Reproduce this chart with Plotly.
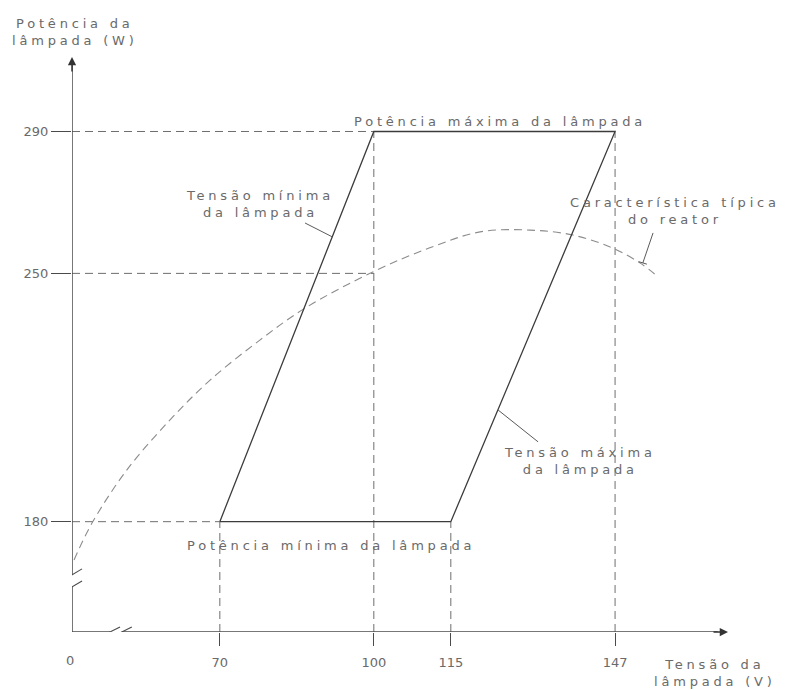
import plotly.graph_objects as go

# ---------------- data ----------------
# operating envelope of the lamp (voltage V, power W)
envelope_v = [70, 100, 147, 115, 70]
envelope_w = [180, 290, 290, 180, 180]

# typical reactor characteristic
reator_v = [41.6, 45.1, 51.9, 60.3, 68.1, 77.8, 86.6, 99.8, 110.9, 120.7, 130.4, 138.8, 146.4, 151.9, 155.4]
reator_w = [169.2, 179.6, 194.6, 208.7, 219.9, 231.2, 240.2, 250.4, 257.2, 261.7, 262.2, 260.8, 257.2, 252.9, 249.0]

x_tick_vals = [70, 100, 115, 147]
x_tick_text = ["70", "100", "115", "147"]
y_tick_vals = [180, 250, 290]
y_tick_text = ["180", "250", "290"]

# guide lines: horizontal (power level, ends at voltage) and vertical (voltage, starts at power)
guide_h_w = [290, 250, 180]
guide_h_v = [100, 100, 70]
guide_v_v = [70, 100, 115, 147]
guide_v_w = [180, 290, 180, 290]

# ---------------- layout constants ----------------
X0, X1 = 41.2, 169.0     # broken axis: origin shown as "0"
Y0, Y1 = 148.9, 311.0
AXIS_COLOR = "#4a4a4a"
GUIDE_COLOR = "#6e6e6e"
TEXT_COLOR = "#6a6a6a"
FONT = "DejaVu Sans"


def spaced(txt, ls=3.8):
    return "<br>".join(f'<span style="letter-spacing:{ls}px">{t}</span>' for t in txt.split("<br>"))


fig = go.Figure()

# guide dashed lines
for w, v in zip(guide_h_w, guide_h_v):
    fig.add_trace(go.Scatter(x=[X0, v], y=[w, w], mode="lines",
                             line=dict(color=GUIDE_COLOR, width=1, dash="8px,5px"),
                             hoverinfo="skip", cliponaxis=False))
for v, w in zip(guide_v_v, guide_v_w):
    fig.add_trace(go.Scatter(x=[v, v], y=[Y0, w], mode="lines",
                             line=dict(color=GUIDE_COLOR, width=1, dash="8px,5px"),
                             hoverinfo="skip", cliponaxis=False))

# reactor curve
fig.add_trace(go.Scatter(x=reator_v, y=reator_w, mode="lines", line_shape="spline",
                         line=dict(color="#8c8c8c", width=1.1, dash="8px,5px"),
                         hoverinfo="skip"))

# envelope
fig.add_trace(go.Scatter(x=envelope_v, y=envelope_w, mode="lines",
                         line=dict(color="#3c3c3c", width=1.3), hoverinfo="skip"))

shapes = []
ax_line = dict(color=AXIS_COLOR, width=1.5)
# y axis with break
shapes.append(dict(type="line", xref="x", yref="y", x0=X0, x1=X0, y0=Y0, y1=161.6, line=ax_line))
shapes.append(dict(type="line", xref="x", yref="y", x0=X0, x1=X0, y0=165.0, y1=Y1 - 2, line=ax_line))
for yc in (161.6, 165.0):
    shapes.append(dict(type="line", xref="x", yref="y", x0=X0 - 1.95, x1=X0 + 1.95,
                       y0=yc - 1.69, y1=yc + 1.69, line=dict(color=AXIS_COLOR, width=1.1)))
# x axis with break
shapes.append(dict(type="line", xref="x", yref="y", x0=X0, x1=48.6, y0=Y0, y1=Y0, line=ax_line))
shapes.append(dict(type="line", xref="x", yref="y", x0=50.9, x1=X1 - 2, y0=Y0, y1=Y0, line=ax_line))
for xc in (48.6, 50.9):
    shapes.append(dict(type="line", xref="x", yref="y", x0=xc - 1.95, x1=xc + 1.95,
                       y0=Y0 - 1.4, y1=Y0 + 1.4, line=dict(color=AXIS_COLOR, width=1.1)))
# leader lines
leaders = [
    ((86.6, 264.2), (91.9, 260.3)),
    ((154.4, 261.4), (152.4, 252.9)),
    ((151.6, 253.3), (153.2, 252.6)),
    ((124.2, 211.5), (132.0, 202.5)),
]
for (xa, ya), (xb, yb) in leaders:
    shapes.append(dict(type="line", xref="x", yref="y", x0=xa, x1=xb, y0=ya, y1=yb,
                       line=dict(color="#5a5a5a", width=1)))
fig.update_layout(shapes=shapes)

ann = []
# arrow heads
ann.append(dict(x=X1, y=Y0, xref="x", yref="y", ax=-16, ay=0, text="", showarrow=True,
                arrowhead=2, arrowsize=1.1, arrowwidth=1.5, arrowcolor="#333"))
ann.append(dict(x=X0, y=Y1, xref="x", yref="y", ax=0, ay=16, text="", showarrow=True,
                arrowhead=2, arrowsize=1.1, arrowwidth=1.5, arrowcolor="#333"))

labels = [
    ("Potência máxima da lâmpada", 124.6, 292.9),
    ("Tensão mínima<br>da lâmpada", 77.8, 269.6),
    ("Característica típica<br>do reator", 158.7, 267.6),
    ("Tensão máxima<br>da lâmpada", 140.2, 197.1),
    ("Potência mínima da lâmpada", 91.7, 173.4),
]
for txt, x, y in labels:
    ann.append(dict(x=x, y=y, xref="x", yref="y", text=spaced(txt), showarrow=False,
                    xanchor="center", yanchor="middle",
                    font=dict(family=FONT, size=13, color=TEXT_COLOR)))
outside = [
    ("Potência da<br>lâmpada (W)", 0.005, 1.0435),
    ("0", 0.0, -0.0487),
    ("Tensão da<br>lâmpada (V)", 0.980, -0.0713),
]
for txt, x, y in outside:
    ann.append(dict(x=x, y=y, xref="paper", yref="paper", text=spaced(txt), showarrow=False,
                    xanchor="center", yanchor="middle",
                    font=dict(family=FONT, size=13, color=TEXT_COLOR)))
fig.update_layout(annotations=ann)

fig.update_layout(
    width=800, height=690,
    margin=dict(l=64, r=80, t=49, b=66),
    paper_bgcolor="white", plot_bgcolor="white",
    showlegend=False,
    xaxis=dict(range=[X0, X1], showgrid=False, zeroline=False, showline=False,
               tickvals=x_tick_vals, ticktext=x_tick_text,
               ticks="outside", ticklen=13, tickwidth=1.3, tickcolor=AXIS_COLOR,
               ticklabelstandoff=5,
               tickfont=dict(family=FONT, size=13, color=TEXT_COLOR)),
    yaxis=dict(range=[Y0, Y1], showgrid=False, zeroline=False, showline=False,
               tickvals=y_tick_vals, ticktext=y_tick_text,
               ticks="outside", ticklen=20, tickwidth=1.3, tickcolor=AXIS_COLOR,
               tickfont=dict(family=FONT, size=13, color=TEXT_COLOR)),
)

fig.write_html("out.html")
